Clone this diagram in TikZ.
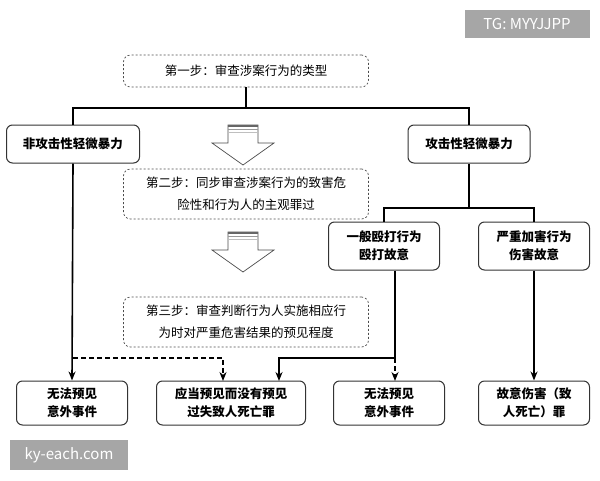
\documentclass[tikz,border=0pt]{standalone}
\usepackage{fontspec}
\setmainfont{Noto Sans CJK SC}
\usetikzlibrary{arrows.meta}
\begin{document}
\begin{tikzpicture}[x=1pt,y=-1pt,
  box/.style={draw=black!80,line width=1pt,rounded corners=6pt,fill=white,align=center,font=\fontsize{12.5}{18}\selectfont\bfseries,inner sep=0pt},
  stepbox/.style={draw=black!70,dash pattern=on 2pt off 2pt,line width=0.7pt,rounded corners=7pt,align=center,font=\fontsize{12.5}{22}\selectfont,inner sep=0pt},
  ln/.style={line width=1.6pt},
  ar/.style={ln,-{Stealth[length=9pt,width=7pt]}},
  da/.style={ar,dash pattern=on 5pt off 3pt},
  wm/.style={fill=black!35,text=white,font=\fontsize{15}{17}\selectfont,inner sep=0pt}]
\useasboundingbox (0,0) rectangle (600,480);
\node[wm,minimum width=125,minimum height=28] (tg) at (527,24) {TG: MYYJJPP};
\node[wm,minimum width=118,minimum height=30] (ky) at (69,455) {ky-each.com};
\node[stepbox,minimum width=245,minimum height=32] (s1) at (246,71) {第一步：审查涉案行为的类型};
\node[stepbox,minimum width=245,minimum height=50] (s2) at (246,194) {第二步：同步审查涉案行为的致害危\\险性和行为人的主观罪过};
\node[stepbox,minimum width=245,minimum height=50] (s3) at (246,322) {第三步：审查判断行为人实施相应行\\为时对严重危害结果的预见程度};
\node[box,minimum width=133,minimum height=38] (L) at (73,144) {非攻击性轻微暴力};
\node[box,minimum width=122,minimum height=38] (R) at (469,144) {攻击性轻微暴力};
\node[box,minimum width=111,minimum height=48] (R1) at (384,246) {一般殴打行为\\殴打故意};
\node[box,minimum width=111,minimum height=48] (R2) at (534,246) {严重加害行为\\伤害故意};
\node[box,minimum width=111,minimum height=44] (B1) at (72,403) {无法预见\\意外事件};
\node[box,minimum width=149,minimum height=44] (B2) at (231,403) {应当预见而没有预见\\过失致人死亡罪};
\node[box,minimum width=111,minimum height=44] (B3) at (389,403) {无法预见\\意外事件};
\node[box,minimum width=111,minimum height=44] (B4) at (534,403) {故意伤害（致\\人死亡）罪};
\coordinate (j1) at (246,108);
\draw[ln] (s1.south) -- (j1);
\draw[ln] (L.north) |- (j1) -| (R.north);
\coordinate (j2) at (469,208);
\draw[ln] (R.south) -- (j2);
\draw[ln] (R1.north) |- (j2) -| (R2.north);
\draw[ar] (L.south) -- (B1.north);
\coordinate (d1) at (73,358);
\draw[da] (d1) -| (223,381);
\coordinate (j3) at (395,358);
\draw[ln] (R1.south -| j3) -- (j3);
\draw[ar] (j3) -| (279,381);
\draw[da] (j3) -- (395,381);
\draw[ar] (R2.south) -- (B4.north);
\foreach \y in {125,232}{
  \draw[black!70,line width=0.7pt,fill=white] (228,\y) -- (258,\y) -- (258,\y+18) -- (274,\y+18) -- (243,\y+40) -- (212,\y+18) -- (228,\y+18) -- cycle;
  \fill[black!60] (228,\y) rectangle (258,\y+2);
  \fill[black!40] (228,\y+3.5) rectangle (258,\y+5);
  \fill[black!25] (228,\y+6.5) rectangle (258,\y+7.5);
}
\end{tikzpicture}
\end{document}
